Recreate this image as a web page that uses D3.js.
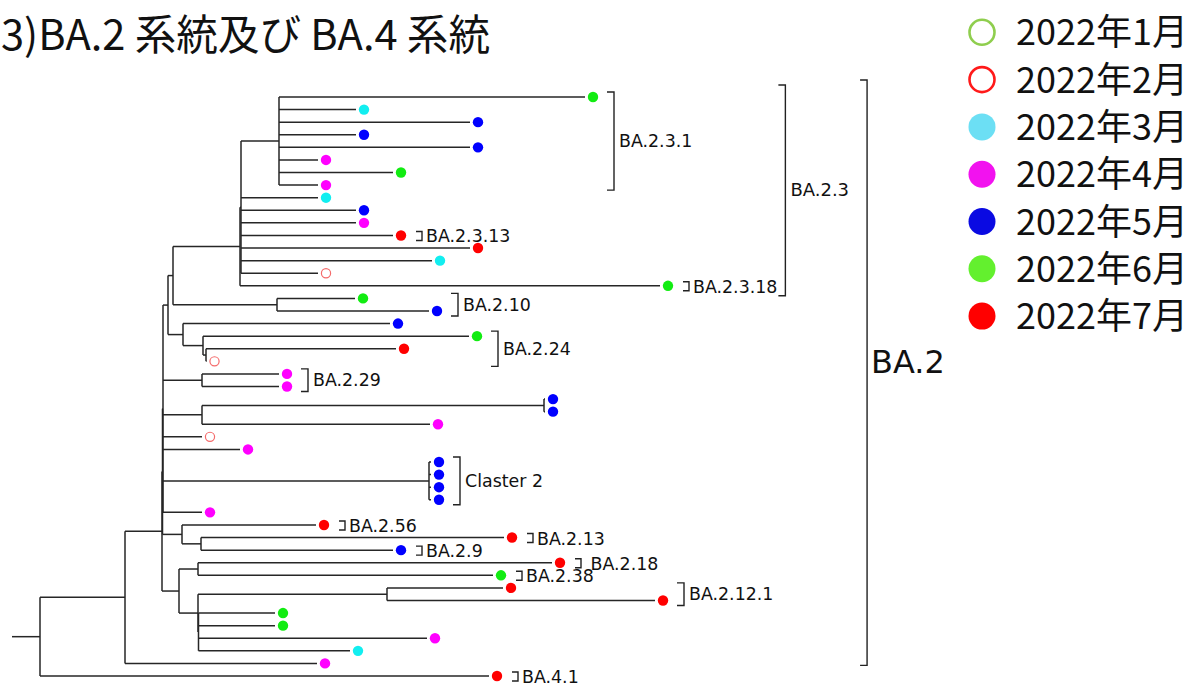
<!DOCTYPE html>
<html>
<head>
<meta charset="utf-8">
<script src="https://cdn.jsdelivr.net/npm/d3@7"></script>
<style>
  body { margin: 0; background: #fff; overflow: hidden; }
  text { fill: #111; }
</style>
</head>
<body>
<script>
// --- data ---
const monthLabels = ["2022年1月", "2022年2月", "2022年3月", "2022年4月", "2022年5月", "2022年6月", "2022年7月"];
const legendColors = ["#8fce4e", "#ff1a1a", "#6cdff4", "#f212ef", "#0a0ae2", "#63f02e", "#ff0000"];
const tipColors = ["#8fce4e", "#f46a6a", "#12eef0", "#ff00ff", "#0000ff", "#12ec12", "#ff0000"];
const openMonths = [1, 2];

// [id, parent, branch length, month (leaves only), lineage label]
const branches = [
  ["R", "", 2.8],
  ["N125", "R", 8.5],
  ["H1", "N125", 3.7],
  ["H2", "H1", 0.05],
  ["H3", "H2", 0.05],
  ["N168", "H3", 0.5],
  ["N173", "N168", 0.5],
  ["C", "N173", 6.7],
  ["D", "C", 0.1],
  ["K231", "D", 3.8],
  ["l01", "K231", 30.6, 6],
  ["l02", "K231", 7.7, 3],
  ["l03", "K231", 19.1, 5],
  ["l04", "K231", 7.7, 5],
  ["l05", "K231", 19.1, 5],
  ["l06", "K231", 3.9, 4],
  ["l07", "K231", 11.4, 6],
  ["l08", "K231", 3.9, 4],
  ["l09", "D", 7.7, 3],
  ["l10", "D", 11.5, 5],
  ["l11", "D", 11.5, 4],
  ["l12", "D", 15.2, 7, "BA.2.3.13"],
  ["l13", "D", 22.9, 7],
  ["l14", "D", 19.1, 3],
  ["l15", "D", 7.7, 2],
  ["l16", "C", 42.0, 6, "BA.2.3.18"],
  ["N277", "N173", 10.4],
  ["l17", "N277", 7.8, 6],
  ["l18", "N277", 15.2, 5],
  ["N183", "N168", 1.5],
  ["l19", "N183", 20.7, 5],
  ["N203", "N183", 2.0],
  ["l20", "N203", 26.6, 6],
  ["N206", "N203", 0.3],
  ["l21", "N206", 19.0, 7],
  ["l22", "N206", 0.05, 2],
  ["N202", "H3", 3.9],
  ["l23", "N202", 7.7, 4],
  ["l24", "N202", 7.7, 4],
  ["N202b", "H3", 3.9],
  ["N544", "N202b", 34.2],
  ["l25", "N544", 0.1, 5],
  ["l26", "N544", 0.1, 5],
  ["l27", "N202b", 22.8, 4],
  ["l28", "H3", 3.9, 2],
  ["l29", "H3", 7.7, 4],
  ["CL2", "H3", 26.6],
  ["l30", "CL2", 0.2, 5],
  ["l31", "CL2", 0.2, 5],
  ["l32", "CL2", 0.2, 5],
  ["l33", "CL2", 0.2, 5],
  ["l34", "H3", 3.9, 4],
  ["N182", "H2", 1.95],
  ["l35", "N182", 13.4, 7, "BA.2.56"],
  ["N201", "N182", 1.9],
  ["l36", "N201", 30.3, 7, "BA.2.13"],
  ["l37", "N201", 19.2, 5, "BA.2.9"],
  ["N179", "H1", 1.7],
  ["N198", "N179", 1.9],
  ["l38", "N198", 35.4, 7, " BA.2.18"],
  ["l39", "N198", 29.5, 6, "BA.2.38"],
  ["E", "N179", 1.9],
  ["N387", "E", 18.9],
  ["l40", "N387", 11.6, 7],
  ["l41", "N387", 26.8, 7],
  ["G", "E", 0.05],
  ["l42", "G", 7.65, 6],
  ["l43", "G", 7.65, 6],
  ["l44", "G", 22.85, 4],
  ["l45", "G", 15.15, 3],
  ["l46", "N125", 19.2, 4],
  ["l47", "R", 44.9, 7, "BA.4.1"]
];

// lineage brackets drawn over several tips: [label, node]
const clades = [
  ["BA.2.3.1", "K231"],
  ["BA.2.10", "N277"],
  ["BA.2.24", "N203"],
  ["BA.2.29", "N202"],
  ["Claster 2", "CL2"],
  ["BA.2.12.1", "N387"]
];
const outerClades = [
  ["BA.2.3", "C"],
  ["BA.2", "N125"]
];

const titleText = "3)BA.2 系統及び BA.4 系統";

// --- layout ---
const width = 1192, height = 687;
const treeFont = "'DejaVu Sans', Verdana, sans-serif";
const jpFont = "'Noto Sans CJK JP', sans-serif";
const labelSize = 17.4;

const svg = d3.select("body").append("svg")
    .attr("width", width)
    .attr("height", height)
    .attr("viewBox", [0, 0, width, height]);

const root = d3.stratify()
    .id(d => d[0])
    .parentId(d => d[1] || null)(branches);

root.eachBefore(n => n.dist = (n.parent ? n.parent.dist : 0) + n.data[2]);

const leaves = root.leaves();
const x = d3.scaleLinear().domain([0, 65]).range([12, 662]);
const y = d3.scaleLinear().domain([0, leaves.length - 1]).range([97, 676]);

leaves.forEach((l, i) => l.yy = y(i));
root.eachAfter(n => {
    if (n.children) n.yy = (n.children[0].yy + n.children[n.children.length - 1].yy) / 2;
});

const dotX = l => x(l.dist) + 8;

// branches
const g = svg.append("g")
    .attr("fill", "none")
    .attr("stroke", "#262626")
    .attr("stroke-width", 1.5);

g.selectAll("path.h")
  .data(root.descendants())
  .join("path")
    .attr("class", "h")
    .attr("d", n => `M${x(n.parent ? n.parent.dist : 0)},${n.yy}H${x(n.dist)}`);

g.selectAll("path.v")
  .data(root.descendants().filter(n => n.children))
  .join("path")
    .attr("class", "v")
    .attr("d", n => `M${x(n.dist)},${n.children[0].yy}V${n.children[n.children.length - 1].yy}`);

// tips
svg.append("g")
  .selectAll("circle")
  .data(leaves)
  .join("circle")
    .attr("cx", dotX)
    .attr("cy", l => l.yy)
    .attr("r", l => openMonths.includes(l.data[3]) ? 4.6 : 5.2)
    .attr("fill", l => openMonths.includes(l.data[3]) ? "#fff" : tipColors[l.data[3] - 1])
    .attr("stroke", l => openMonths.includes(l.data[3]) ? tipColors[l.data[3] - 1] : "none")
    .attr("stroke-width", 1.2);

const labelG = svg.append("g");
const bracketStyle = sel => sel.attr("fill", "none").attr("stroke", "#222").attr("stroke-width", 1.4);

// single-tip lineage labels
leaves.filter(l => l.data[4]).forEach(l => {
    const bx = dotX(l) + 21;
    labelG.append("path").call(bracketStyle)
        .attr("d", `M${bx - 6},${l.yy - 4}H${bx}V${l.yy + 5}H${bx - 6}`);
    labelG.append("text")
        .attr("class", "lab")
        .attr("x", bx + 4)
        .attr("y", l.yy + 7)
        .attr("font-family", treeFont)
        .attr("font-size", labelSize)
        .style("white-space", "pre")
        .text(l.data[4]);
});

// multi-tip lineage brackets
const nodeById = new Map(root.descendants().map(n => [n.id, n]));
clades.forEach(([name, id]) => {
    const n = nodeById.get(id);
    const ls = n.leaves();
    const y0 = ls[0].yy - 5, y1 = ls[ls.length - 1].yy + 5;
    const bx = d3.max(ls, dotX) + 21;
    labelG.append("path").call(bracketStyle)
        .attr("d", `M${bx - 7},${y0}H${bx}V${y1}H${bx - 7}`);
    labelG.append("text")
        .attr("class", "lab")
        .attr("x", bx + 5)
        .attr("y", (y0 + y1) / 2 + 6)
        .attr("font-family", treeFont)
        .attr("font-size", labelSize)
        .text(name);
});

// outer brackets placed right of everything they enclose
const pads = [[12, 10], [17, 2]];
outerClades.forEach(([name, id], i) => {
    const n = nodeById.get(id);
    const ls = n.leaves();
    const y0 = ls[0].yy - pads[i][0], y1 = ls[ls.length - 1].yy + pads[i][1];
    let right = 0;
    labelG.selectAll("text.lab").each(function() {
        const ty = +this.getAttribute("y");
        if (ty >= y0 && ty <= y1 + 8) {
            right = Math.max(right, +this.getAttribute("x") + this.getComputedTextLength());
        }
    });
    const bx = right + (i === 0 ? 8 : 18);
    labelG.append("path").call(bracketStyle)
        .attr("d", `M${bx - 7},${y0}H${bx}V${y1}H${bx - 7}`);
    labelG.append("text")
        .attr("class", "lab")
        .attr("x", bx + (i === 0 ? 5 : 4))
        .attr("y", (y0 + y1) / 2 + (i === 0 ? 6 : 0))
        .attr("font-family", treeFont)
        .attr("font-size", i === 0 ? labelSize + 0.6 : 32)
        .text(name);
});

// title
svg.append("text")
    .attr("x", 1)
    .attr("y", 49.5)
    .attr("font-family", jpFont)
    .attr("font-size", 42)
    .attr("textLength", 489)
    .attr("lengthAdjust", "spacingAndGlyphs")
    .text(titleText);

// legend
const legend = svg.append("g")
  .selectAll("g")
  .data(monthLabels)
  .join("g")
    .attr("transform", (d, i) => `translate(982,${32.3 + i * 47.3})`);

legend.append("circle")
    .attr("r", (d, i) => openMonths.includes(i + 1) ? 12.5 : 13.5)
    .attr("fill", (d, i) => openMonths.includes(i + 1) ? "#fff" : legendColors[i])
    .attr("stroke", (d, i) => openMonths.includes(i + 1) ? legendColors[i] : "none")
    .attr("stroke-width", 2.6);

legend.append("text")
    .attr("x", 34)
    .attr("y", 13)
    .attr("font-family", jpFont)
    .attr("font-size", 36)
    .text(d => d);
</script>
</body>
</html>
